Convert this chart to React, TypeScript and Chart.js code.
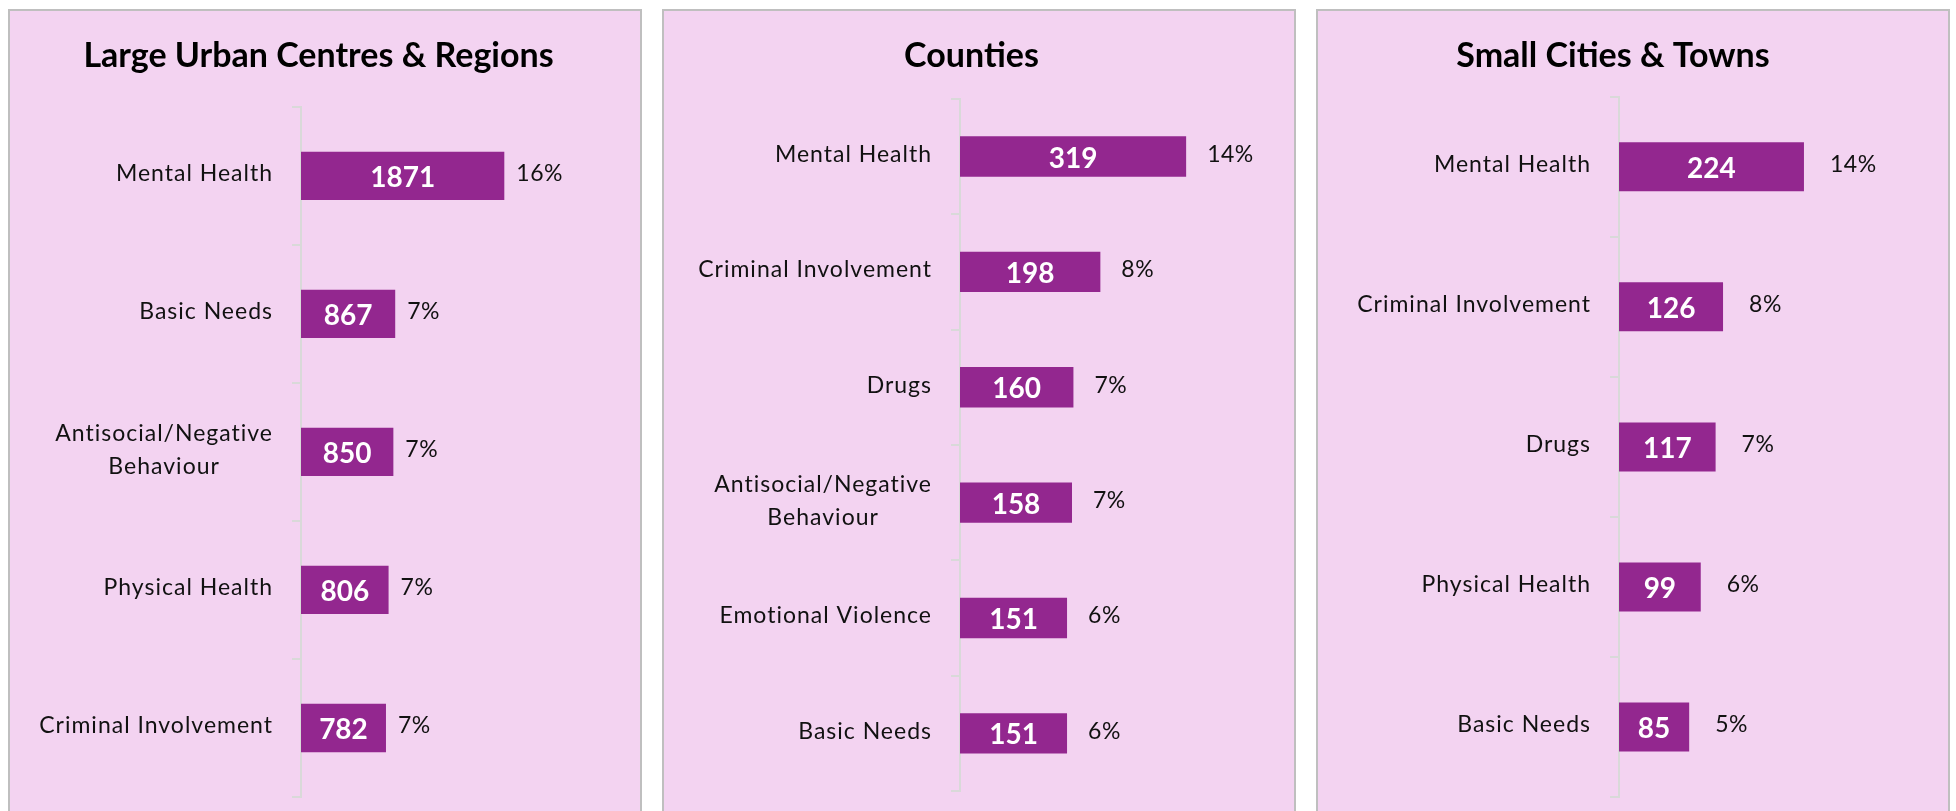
import React, { useEffect, useRef } from 'react';
import { Chart, registerables } from 'chart.js';

Chart.register(...registerables);

// ---------- DATA ----------
const largeTitle = 'Large Urban Centres & Regions';
const largeCategories: (string | string[])[] = ['Mental Health', 'Basic Needs', ['Antisocial/Negative', 'Behaviour'], 'Physical Health', 'Criminal Involvement'];
const largeValues = [1871, 867, 850, 806, 782];
const largePercents = [16, 7, 7, 7, 7];

const countiesTitle = 'Counties';
const countiesCategories: (string | string[])[] = ['Mental Health', 'Criminal Involvement', 'Drugs', ['Antisocial/Negative', 'Behaviour'], 'Emotional Violence', 'Basic Needs'];
const countiesValues = [319, 198, 160, 158, 151, 151];
const countiesPercents = [14, 8, 7, 7, 6, 6];

const smallTitle = 'Small Cities & Towns';
const smallCategories: (string | string[])[] = ['Mental Health', 'Criminal Involvement', 'Drugs', 'Physical Health', 'Basic Needs'];
const smallValues = [224, 126, 117, 99, 85];
const smallPercents = [14, 8, 7, 6, 5];

// ---------- STYLE ----------
const BAR_COLOR = '#93278f';
const PANEL_BG = '#f3d3f1';
const PANEL_BORDER = '#bfbfbf';
const AXIS_COLOR = '#d9d9d9';
const FONT = 'Lato, "Open Sans", sans-serif';

const PANEL_W = 634;
const PANEL_H = 830;

type PanelProps = {
  left: number;
  title: string;
  categories: (string | string[])[];
  values: number[];
  percents: number[];
  xMax: number;
  axisWidth: number;
  titlePadBottom: number;
  padRight: number;
  padBottom: number;
  pctGap: number;
};

function makeLabelPlugin(percents: number[], pctGap: number) {
  return {
    id: 'barLabels',
    afterDatasetsDraw(chart: any) {
      const ctx = chart.ctx as any;
      const meta = chart.getDatasetMeta(0);
      const data = chart.data.datasets[0].data as number[];
      const cats = chart.data.labels as (string | string[])[];
      const area = chart.chartArea;
      ctx.save();
      meta.data.forEach((bar: any, i: number) => {
        const { x, y, base } = bar.getProps(['x', 'y', 'base'], true);
        // value inside bar
        ctx.letterSpacing = '0px';
        ctx.font = `bold 28px ${FONT}`;
        ctx.fillStyle = '#ffffff';
        ctx.textAlign = 'center';
        ctx.textBaseline = 'middle';
        ctx.fillText(String(data[i]), (x + base) / 2, y + 2);
        // percent to the right
        ctx.letterSpacing = '0.5px';
        ctx.font = `23px ${FONT}`;
        ctx.fillStyle = '#111111';
        ctx.textAlign = 'left';
        ctx.fillText(`${percents[i]}%`, x + pctGap, y - 2);
        // category label (right-aligned block, centered lines)
        ctx.letterSpacing = '1px';
        const lines = Array.isArray(cats[i]) ? (cats[i] as string[]) : [cats[i] as string];
        const right = area.left - 28;
        const widths = lines.map((l) => ctx.measureText(l).width);
        const maxW = Math.max(...widths);
        const cx = right - maxW / 2;
        const lh = 33;
        ctx.textAlign = 'center';
        lines.forEach((l, j) => {
          ctx.fillText(l, cx, y - 2 + (j - (lines.length - 1) / 2) * lh);
        });
      });
      ctx.restore();
    },
  };
}

function Panel(p: PanelProps) {
  const ref = useRef<HTMLCanvasElement | null>(null);
  useEffect(() => {
    if (!ref.current) return;
    const chart = new Chart(ref.current, {
      type: 'bar',
      data: {
        labels: p.categories as any,
        datasets: [
          {
            data: p.values,
            backgroundColor: BAR_COLOR,
            borderWidth: 0,
            barPercentage: 0.35,
            categoryPercentage: 1,
          },
        ],
      },
      options: {
        indexAxis: 'y',
        responsive: false,
        animation: false,
        devicePixelRatio: 1,
        layout: { padding: { left: 0, right: p.padRight, top: 0, bottom: p.padBottom } },
        plugins: {
          legend: { display: false },
          tooltip: { enabled: false },
          title: {
            display: true,
            text: p.title,
            color: '#000000',
            font: { family: FONT, size: 34, weight: 'bold' },
            padding: { top: 25, bottom: p.titlePadBottom },
          },
        },
        scales: {
          x: { display: false, min: 0, max: p.xMax },
          y: {
            type: 'category',
            offset: true,
            grid: {
              display: true,
              offset: true,
              drawOnChartArea: false,
              drawTicks: true,
              tickLength: 9,
              color: AXIS_COLOR,
              lineWidth: 2,
            },
            border: { display: true, color: AXIS_COLOR, width: 2 },
            ticks: { display: false },
            afterFit: (scale: any) => {
              scale.width = p.axisWidth;
            },
          },
        },
      } as any,
      plugins: [makeLabelPlugin(p.percents, p.pctGap)],
    });
    return () => chart.destroy();
  }, []);
  return (
    <div
      style={{
        position: 'absolute',
        left: p.left,
        top: 9,
        width: PANEL_W,
        height: PANEL_H,
        boxSizing: 'border-box',
        border: `2px solid ${PANEL_BORDER}`,
        background: PANEL_BG,
        overflow: 'hidden',
      }}
    >
      <canvas ref={ref} width={PANEL_W - 4} height={PANEL_H - 4} style={{ display: 'block' }} />
    </div>
  );
}

export default function App() {
  return (
    <div style={{ position: 'fixed', left: 0, top: 0, width: 1956, height: 811, overflow: 'hidden', background: '#ffffff' }}>
      <Panel
        left={8}
        title={largeTitle}
        categories={largeCategories}
        values={largeValues}
        percents={largePercents}
        xMax={3000}
        axisWidth={291}
        titlePadBottom={30}
        padRight={13}
        padBottom={40}
        pctGap={12}
      />
      <Panel
        left={662}
        title={countiesTitle}
        categories={countiesCategories}
        values={countiesValues}
        percents={countiesPercents}
        xMax={450}
        axisWidth={296}
        titlePadBottom={22}
        padRight={15}
        padBottom={46}
        pctGap={21}
      />
      <Panel
        left={1316}
        title={smallTitle}
        categories={smallCategories}
        values={smallValues}
        percents={smallPercents}
        xMax={350}
        axisWidth={301}
        titlePadBottom={20}
        padRight={40}
        padBottom={40}
        pctGap={26}
      />
    </div>
  );
}
